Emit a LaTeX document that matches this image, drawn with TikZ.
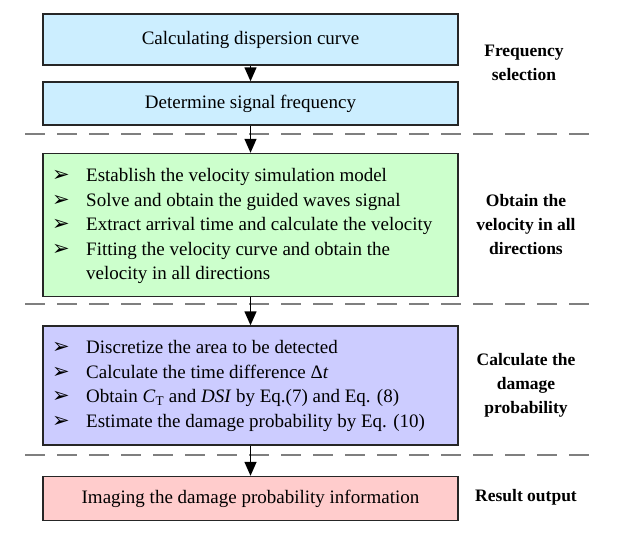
\documentclass[tikz,border=0pt]{standalone}
\usepackage{fontspec}
\setmainfont{Liberation Serif}
\newfontfamily\symfont{DejaVu Sans}
\usetikzlibrary{arrows.meta}
\definecolor{cblue}{HTML}{CCEEFF}
\definecolor{cgreen}{HTML}{CCFFCC}
\definecolor{cpurple}{HTML}{CCCCFF}
\definecolor{cpink}{HTML}{FFCCCC}
\definecolor{dashgray}{HTML}{7F7F7F}
\newcommand{\bmark}{\makebox[34pt][l]{\symfont\fontsize{21}{21}\selectfont ➢}}
\newcommand{\bl}[1]{\bmark#1\\}
\begin{document}
\begin{tikzpicture}[x=1pt,y=-1pt,
  stepbox/.style={draw=black!85,line width=1.4pt,minimum width=415pt,inner sep=0pt,font=\fontsize{19}{24.5}\selectfont},
  listtext/.style={align=left,inner sep=0pt,anchor=west,font=\fontsize{19}{24.5}\selectfont},
  sidelabel/.style={align=center,font=\bfseries\fontsize{17.5}{24}\selectfont},
  sep/.style={draw=dashgray,line width=2.2pt,dash pattern=on 20pt off 12pt},
  flow/.style={draw=black,line width=1.4pt,-{Triangle[length=14pt,width=12pt]}}]
\useasboundingbox (0,0) rectangle (617,536);
\node[stepbox,fill=cblue,minimum height=51pt] (b1) at (250.5,39.5) {Calculating dispersion curve};
\node[stepbox,fill=cblue,minimum height=43pt] (b2) at (250.5,103.5) {Determine signal frequency};
\node[stepbox,fill=cgreen,minimum height=143pt] (b3) at (250.5,225) {};
\node[listtext] (t3) at (52,226) {\bl{Establish the velocity simulation model}\bl{Solve and obtain the guided waves signal}\bl{Extract arrival time and calculate the velocity}\bl{Fitting the velocity curve and obtain the}\hspace*{34pt}velocity in all directions};
\node[stepbox,fill=cpurple,minimum height=119pt] (b4) at (250.5,385.5) {};
\node[listtext] (t4) at (52,386) {\bl{Discretize the area to be detected}\bl{Calculate the time difference Δ\textit{t}}\bl{Obtain \textit{C}\textsubscript{T} and \textit{DSI} by Eq.(7) and Eq. (8)}\bmark Estimate the damage probability by Eq. (10)};
\node[stepbox,fill=cpink,minimum height=44pt] (b5) at (250.5,498.5) {Imaging the damage probability information};
\coordinate (l1a) at (25,134); \coordinate (l1b) at (597,134);
\coordinate (l2a) at (25,304); \coordinate (l2b) at (597,304);
\coordinate (l3a) at (25,455); \coordinate (l3b) at (597,455);
\draw[sep] (l1a) -- (l1b);
\draw[sep] (l2a) -- (l2b);
\draw[sep] (l3a) -- (l3b);
\draw[flow] (b1) -- (b2);
\draw[flow] (b2) -- (b3);
\draw[flow] (b3) -- (b4);
\draw[flow] (b4) -- (b5);
\node[sidelabel] (s1) at (524,63) {Frequency\\selection};
\node[sidelabel] (s2) at (526,225) {Obtain the\\velocity in all\\directions};
\node[sidelabel] (s3) at (526,385) {Calculate the\\damage\\probability};
\node[sidelabel] (s4) at (526,497) {Result output};
\end{tikzpicture}
\end{document}
